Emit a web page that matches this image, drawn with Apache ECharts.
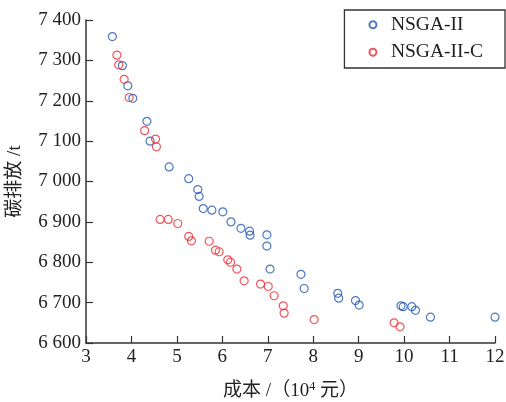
<!DOCTYPE html>
<html>
<head>
<meta charset="utf-8">
<script src="https://cdn.jsdelivr.net/npm/echarts@6/dist/echarts.min.js"></script>
<style>
  html, body { margin: 0; padding: 0; background: #fff; }
  #chart { width: 506px; height: 402px; }
</style>
</head>
<body>
<div id="chart"></div>
<script>
// NSGA-II: [cost (10^4 yuan), carbon emission (t)]
const nsga2Points = [
  [3.58, 7359], [3.80, 7287], [3.92, 7237], [4.03, 7206], [4.34, 7149],
  [4.41, 7100], [4.83, 7036], [5.26, 7007], [5.46, 6980], [5.49, 6963],
  [5.58, 6933], [5.77, 6929], [6.01, 6925], [6.19, 6900], [6.41, 6884],
  [6.60, 6877], [6.61, 6867], [6.98, 6868], [6.98, 6840], [7.05, 6783],
  [7.73, 6770], [7.80, 6735], [8.54, 6723], [8.56, 6711], [8.93, 6705],
  [9.01, 6694], [9.93, 6692], [9.98, 6690], [10.17, 6690], [10.25, 6681],
  [10.58, 6664], [12.0, 6664]
];
const nsga2cPoints = [
  [3.68, 7313], [3.72, 7289], [3.84, 7253], [3.95, 7208], [4.29, 7126],
  [4.53, 7105], [4.55, 7086], [4.63, 6906], [4.81, 6906], [5.02, 6896],
  [5.26, 6864], [5.32, 6853], [5.71, 6852], [5.85, 6830], [5.93, 6826],
  [6.12, 6806], [6.18, 6800], [6.32, 6783], [6.48, 6754], [6.84, 6746],
  [7.01, 6740], [7.14, 6717], [7.34, 6692], [7.36, 6674], [8.02, 6658],
  [9.78, 6650], [9.91, 6640]
];
const seriesNames = ['NSGA-II', 'NSGA-II-C'];
const seriesColors = ['#2358b0', '#ee2c36'];

const chart = echarts.init(document.getElementById('chart'));
const axisColor = '#333';
const textColor = '#222';
const fontFamily = '"Liberation Serif", "Noto Sans CJK SC", serif';

function thousands(v) {
  const s = String(v);
  return s.length > 3 ? s.slice(0, s.length - 3) + ' ' + s.slice(-3) : s;
}

function makeSeries(name, data, color) {
  return {
    name: name,
    type: 'scatter',
    data: data,
    symbol: 'circle',
    symbolSize: 8,
    itemStyle: { color: 'rgba(255,255,255,0)', borderColor: color, borderWidth: 1.2 }
  };
}

chart.setOption({
  animation: false,
  textStyle: { fontFamily: fontFamily },
  grid: { left: 86, right: 11, top: 20, bottom: 59, outerBoundsMode: 'none' },
  legend: {
    orient: 'vertical',
    right: 1,
    top: 10,
    padding: [5, 22, 6, 24],
    itemGap: 8,
    borderColor: axisColor,
    borderWidth: 1.3,
    icon: 'circle',
    itemWidth: 26,
    itemHeight: 7,
    textStyle: { fontFamily: fontFamily, fontSize: 19.5, color: textColor },
    data: seriesNames
  },
  xAxis: {
    type: 'value',
    min: 3, max: 12, interval: 1,
    name: '成本 /（10{sup|4} 元）',
    nameLocation: 'middle',
    nameGap: 38,
    nameTextStyle: {
      fontSize: 19, color: textColor, fontFamily: fontFamily,
      rich: { sup: { fontSize: 12, color: textColor, fontFamily: fontFamily, verticalAlign: 'top', padding: [0, 0, 8, 0] } }
    },
    splitLine: { show: false },
    axisLine: { onZero: false, lineStyle: { color: axisColor, width: 1.5 } },
    axisTick: { inside: true, length: 7, lineStyle: { color: axisColor, width: 1.2 } },
    axisLabel: { fontSize: 19, color: textColor, margin: 5, fontFamily: fontFamily }
  },
  yAxis: {
    type: 'value',
    min: 6600, max: 7400, interval: 100,
    name: '碳排放 /t',
    nameLocation: 'middle',
    nameGap: 61,
    nameRotate: 90,
    nameTextStyle: { fontSize: 19, color: textColor, fontFamily: fontFamily },
    splitLine: { show: false },
    axisLine: { show: true, onZero: false, lineStyle: { color: axisColor, width: 1.5 } },
    axisTick: { show: true, inside: true, length: 7, lineStyle: { color: axisColor, width: 1.2 } },
    axisLabel: { fontSize: 19, color: textColor, margin: 5, fontFamily: fontFamily, formatter: thousands }
  },
  series: [
    makeSeries(seriesNames[0], nsga2Points, seriesColors[0]),
    makeSeries(seriesNames[1], nsga2cPoints, seriesColors[1])
  ]
});
</script>
</body>
</html>
